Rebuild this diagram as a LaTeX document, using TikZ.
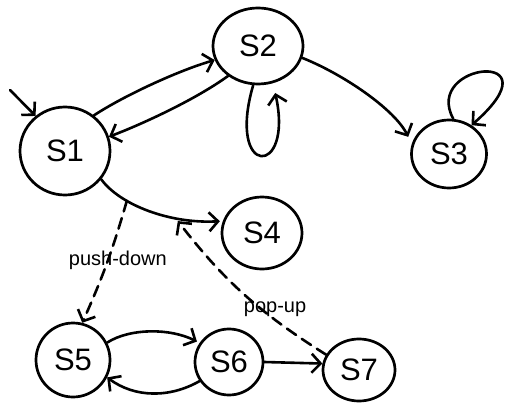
\documentclass[tikz,border=0pt]{standalone}
\usepackage{fontspec}
\setmainfont{Liberation Sans}
\usetikzlibrary{shapes.geometric,arrows.meta}
\begin{document}
\begin{tikzpicture}[x=1pt,y=-1pt,
  state/.style={draw, ellipse, line width=2.7pt, inner sep=0pt, font=\fontsize{31}{33}\selectfont},
  edge/.style={line width=2.6pt, line cap=round, -{Straight Barb[length=9pt,width=19pt,line width=2.6pt]}},
  dashededge/.style={edge, dash pattern=on 11pt off 7pt},
  lbl/.style={font=\fontsize{20}{22}\selectfont, inner sep=1pt}]
\useasboundingbox (0,0) rectangle (506,404);
\node[state, minimum width=90pt, minimum height=88pt] (S1) at (65,151) {S1};
\node[state, minimum width=90pt, minimum height=76pt] (S2) at (258,46) {S2};
\node[state, minimum width=75pt, minimum height=68pt] (S3) at (449,154) {S3};
\node[state, minimum width=80pt, minimum height=72pt] (S4) at (262,233) {S4};
\node[state, minimum width=74pt, minimum height=74pt] (S5) at (73,360) {S5};
\node[state, minimum width=68pt, minimum height=66pt] (S6) at (229,362) {S6};
\node[state, minimum width=72pt, minimum height=62pt] (S7) at (359,370) {S7};
\coordinate (start) at (10,90);

\draw[edge] (start) -- (S1.130);
\draw[edge] (S1.51) .. controls (125,95) and (180,70) .. (S2.198);
\draw[edge] (S2.225) .. controls (195,100) and (140,125) .. (S1.18);
\draw[edge, shorten >=10pt] (S2.263) .. controls (226,178) and (294,178) .. (S2.292);
\draw[edge] (S3.83) .. controls (422,62) and (560,48) .. (S3.52);
\draw[edge, shorten >=8pt] (S2.-15) .. controls (345,75) and (395,110) .. (S3.165);
\draw[edge, shorten >=3pt] (S1.-38) .. controls (120,205) and (170,224) .. coordinate[pos=0.31] (pd) coordinate[pos=0.69] (pu) (S4.163);
\draw[dashededge] (pd) to[bend left=4] node[lbl, pos=0.48, xshift=10pt] {push-down} (S5.76);
\draw[dashededge, shorten >=4pt] (S7.155) to[bend left=10] node[lbl, pos=0.3, xshift=2pt, yshift=9pt] {pop-up} (pu);
\draw[edge, shorten >=3pt] (S5.27) .. controls (130,328) and (170,328) .. (S6.147);
\draw[edge] (S6.213) .. controls (170,398) and (135,398) .. (S5.-27);
\draw[edge] (S6.east) -- (S7.170);
\end{tikzpicture}
\end{document}
